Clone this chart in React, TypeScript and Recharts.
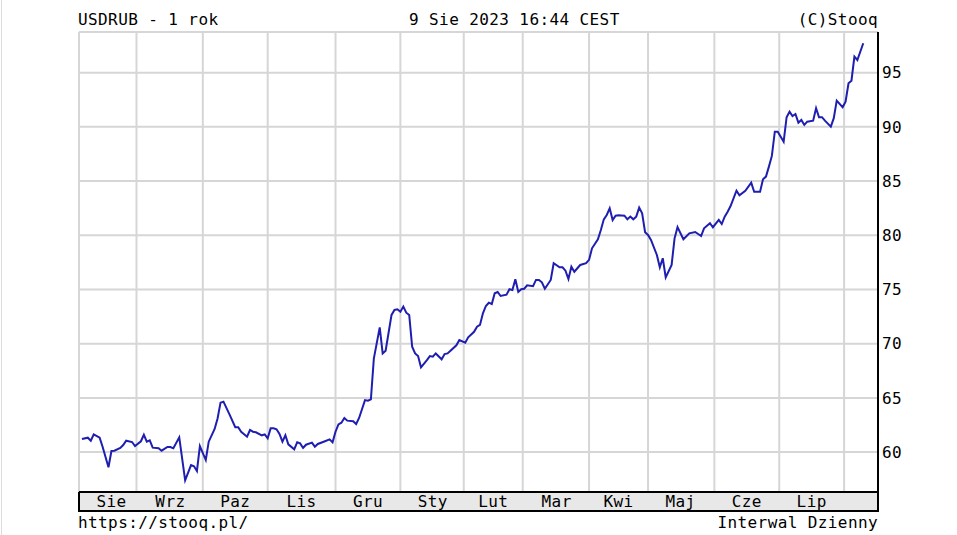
import { CartesianGrid, Line, LineChart, XAxis, YAxis } from "recharts";

// trading-day index from the start of the one-year window
const days = [
  1, 3, 4, 5, 7, 8, 10, 11, 12, 14, 15, 16, 18, 19, 21, 22, 23, 24, 25, 27, 28, 30, 31, 32, 34, 36, 38, 39, 40, 41,
  43, 44, 46, 47, 48, 49, 51, 53, 54, 55, 57, 58, 59, 60, 62, 63, 64, 65, 66, 67, 68, 69, 70, 71, 73, 74, 75, 76, 77,
  79, 80, 81, 83, 85, 86, 87, 88, 89, 90, 91, 93, 94, 95, 97, 98, 99, 100, 102, 103, 104, 106, 107, 108, 109, 110,
  111, 112, 113, 114, 115, 116, 118, 119, 120, 121, 123, 124, 125, 126, 128, 129, 131, 132, 134, 135, 136, 137, 138,
  139, 140, 141, 142, 143, 145, 146, 147, 148, 149, 150, 151, 152, 154, 155, 156, 157, 158, 160, 161, 163, 164, 165,
  166, 167, 168, 170, 172, 173, 174, 176, 177, 178, 179, 180, 181, 182, 183, 185, 186, 187, 188, 189, 190, 191, 192,
  193, 194, 196, 197, 198, 199, 201, 202, 203, 205, 207, 209, 211, 212, 214, 215, 217, 218, 219, 220, 221, 223, 224,
  226, 228, 229, 231, 232, 233, 234, 235, 236, 237, 239, 240, 241, 242, 243, 244, 245, 246, 247, 249, 250, 251, 252,
  253, 255, 256, 257, 259, 260, 261, 262, 263, 264, 266,
];

const closes = [
  61.2, 61.33, 61.05, 61.64, 61.33, 60.5, 58.6, 60.1, 60.13, 60.38, 60.65, 61.05, 60.93, 60.56, 61.0, 61.6, 60.96,
  61.09, 60.41, 60.35, 60.13, 60.47, 60.47, 60.35, 61.36, 57.4, 58.8, 58.7, 58.26, 60.56, 59.27, 60.96, 62.13, 63.1,
  64.56, 64.65, 63.5, 62.3, 62.3, 61.88, 61.42, 62.04, 61.88, 61.83, 61.55, 61.64, 61.27, 62.19, 62.19, 62.1, 61.67,
  60.96, 61.55, 60.72, 60.26, 60.9, 60.8, 60.38, 60.68, 60.87, 60.5, 60.75, 60.96, 61.18, 60.9, 61.88, 62.56, 62.71,
  63.15, 62.9, 62.84, 62.59, 63.15, 64.8, 64.74, 64.87, 68.62, 71.51, 69.1, 69.35, 72.65, 73.11, 73.17, 72.95, 73.42,
  72.86, 72.65, 69.72, 69.1, 68.86, 67.82, 68.49, 68.86, 68.8, 69.1, 68.56, 69.04, 69.1, 69.35, 69.85, 70.34, 70.09,
  70.59, 71.1, 71.57, 71.73, 72.8, 73.48, 73.78, 73.66, 74.65, 74.77, 74.4, 74.52, 75.02, 74.95, 75.94, 74.77, 75.02,
  75.07, 75.39, 75.3, 75.88, 75.88, 75.66, 75.07, 75.88, 77.42, 77.05, 77.05, 76.73, 75.97, 77.1, 76.64, 77.26, 77.42,
  77.73, 78.8, 79.63, 80.49, 81.47, 81.87, 82.49, 81.41, 81.81, 81.84, 81.81, 81.47, 81.72, 81.47, 81.72, 82.55,
  82.03, 80.28, 80.03, 79.57, 78.18, 77.05, 77.88, 76.12, 77.26, 79.72, 80.75, 79.63, 80.18, 80.3, 79.93, 80.64,
  81.11, 80.74, 81.41, 81.04, 81.72, 82.18, 82.7, 84.11, 83.69, 84.11, 84.85, 84.02, 84.02, 85.17, 85.41, 86.33,
  87.32, 89.56, 89.56, 88.63, 90.89, 91.4, 91.0, 91.19, 90.39, 90.64, 90.18, 90.48, 90.57, 91.72, 90.89, 90.89, 90.57,
  90.02, 90.8, 92.42, 91.81, 92.33, 94.02, 94.26, 96.48, 96.17, 97.71,
];

// month boundaries (trading-day index) and where each month name sits
const monthStarts = [19.5, 42, 64, 87, 109, 130.5, 150.5, 173, 193, 215.5, 237.5, 259.5];
const monthMids = [11, 31, 53, 75.5, 98, 120, 140.5, 162, 183, 204, 226.5, 248.5];
const monthNames = ["Sie", "Wrz", "Paz", "Lis", "Gru", "Sty", "Lut", "Mar", "Kwi", "Maj", "Cze", "Lip"];
const yTicks = [60, 65, 70, 75, 80, 85, 90, 95];

const data = days.map((t, i) => ({ t, v: closes[i] }));

const FONT = "'DejaVu Sans Mono', monospace";
const LS = 0.4;
const W = 957;
const H = 535;

export default function App() {
  return (
    <div style={{ position: "absolute", left: 0, top: 0, width: W, height: H, background: "#fff", fontFamily: FONT }}>
      <div style={{ position: "absolute", left: 1, top: 0, width: 1, height: H, background: "#dcdcdc" }} />
      {/* month band under the plot */}
      <div
        style={{
          position: "absolute",
          left: 78,
          top: 491,
          width: 801,
          height: 21,
          boxSizing: "border-box",
          border: "2px solid #000",
          background: "#e8e8e8",
        }}
      />
      <div style={{ position: "absolute", left: 0, top: 0 }}>
        <LineChart width={W} height={H} data={data} margin={{ top: 32, right: 49, bottom: 23, left: 79 }}>
          <CartesianGrid xAxisId="top" yAxisId="r" stroke="#d6d6d6" strokeWidth={2} />
          <XAxis
            xAxisId="top"
            orientation="top"
            dataKey="t"
            type="number"
            domain={[0, 271]}
            ticks={monthStarts}
            height={0}
            mirror
            tickSize={5}
            tickFormatter={() => ""}
            axisLine={{ stroke: "#000", strokeWidth: 2 }}
            tickLine={{ stroke: "#000", strokeWidth: 2 }}
          />
          <XAxis
            xAxisId="bottom"
            dataKey="t"
            type="number"
            domain={[0, 271]}
            ticks={monthMids}
            interval={0}
            height={20}
            tickSize={0}
            tickMargin={4}
            tickFormatter={(v: number) => monthNames[monthMids.indexOf(v)] ?? ""}
            tick={{ fill: "#000", fontSize: 16, fontFamily: FONT, letterSpacing: LS }}
            axisLine={{ stroke: "#000", strokeWidth: 2 }}
          />
          <YAxis
            yAxisId="l"
            orientation="left"
            type="number"
            domain={[56.32, 98.75]}
            ticks={yTicks}
            width={0}
            mirror
            tickSize={5}
            tickFormatter={() => ""}
            axisLine={{ stroke: "#000", strokeWidth: 2 }}
            tickLine={{ stroke: "#000", strokeWidth: 2 }}
          />
          <YAxis
            yAxisId="r"
            orientation="right"
            type="number"
            domain={[56.32, 98.75]}
            ticks={yTicks}
            width={30}
            tickSize={0}
            tickMargin={4}
            tick={{ fill: "#000", fontSize: 16, fontFamily: FONT, textAnchor: "start", letterSpacing: LS }}
            axisLine={{ stroke: "#000", strokeWidth: 2 }}
          />
          <Line
            xAxisId="bottom"
            yAxisId="r"
            dataKey="v"
            type="linear"
            stroke="#1e1eb0"
            strokeWidth={2}
            dot={false}
            isAnimationActive={false}
          />
        </LineChart>
      </div>
      <svg width={W} height={H} style={{ position: "absolute", left: 0, top: 0, pointerEvents: "none" }}>
        <g fontFamily={FONT} fontSize={16} fill="#000" letterSpacing={LS}>
          <text x={78} y={25}>USDRUB - 1 rok</text>
          <text x={409} y={25}>9 Sie 2023 16:44 CEST</text>
          <text x={878} y={25} textAnchor="end">(C)Stooq</text>
          <text x={78} y={528}>https://stooq.pl/</text>
          <text x={878} y={528} textAnchor="end">Interwal Dzienny</text>
        </g>
      </svg>
    </div>
  );
}
